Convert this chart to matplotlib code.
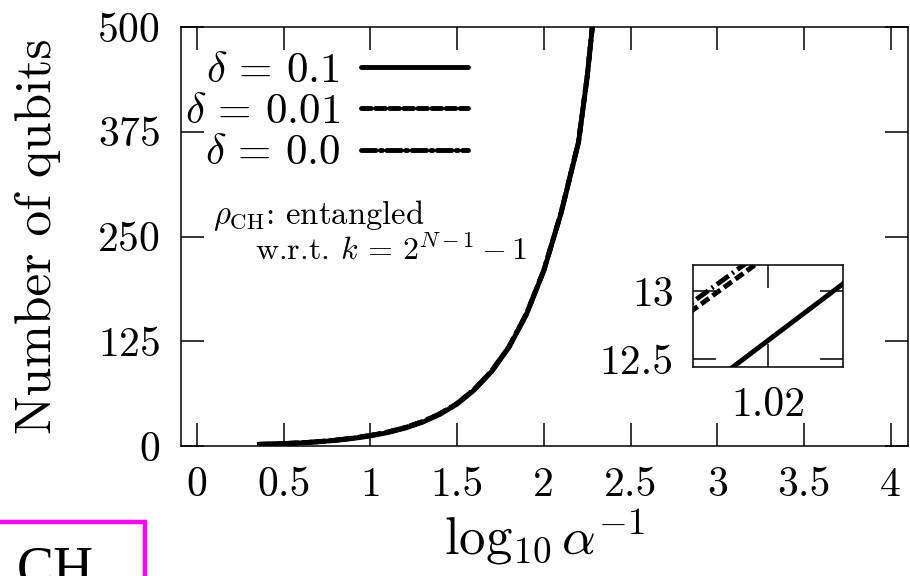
import matplotlib
matplotlib.use("Agg")
import matplotlib.pyplot as plt
from matplotlib.patches import Rectangle

plt.rcParams['font.family'] = 'serif'
plt.rcParams['font.serif'] = ['cmr10']
plt.rcParams['mathtext.fontset'] = 'cm'
plt.rcParams['axes.unicode_minus'] = False
plt.rcParams['axes.formatter.use_mathtext'] = True

# ---------------- data ----------------
log_inv_alpha = [0.36, 0.4, 0.5, 0.6, 0.7, 0.8, 0.9, 1.0, 1.1, 1.2, 1.3, 1.4, 1.5,
                 1.6, 1.7, 1.8, 1.9, 2.0, 2.1, 2.2, 2.25, 2.28, 2.32]
n_delta_01 = [2, 2.2, 2.8, 3.7, 5.0, 6.7, 9.0, 12, 16, 21.3, 28.3, 37.7, 50,
              67, 89, 118, 157, 209, 278, 362, 440, 500, 570]
n_delta_001 = [2, 2.2, 2.9, 3.8, 5.2, 7.0, 9.4, 12.6, 16.6, 22.0, 29.0, 38.4, 50.7,
               67.7, 89.7, 118.7, 157.7, 209.7, 278.7, 362.7, 440.7, 500.7, 570.7]
n_delta_00 = [2, 2.2, 2.9, 3.8, 5.2, 7.0, 9.5, 12.7, 16.7, 22.1, 29.1, 38.5, 50.8,
              67.8, 89.8, 118.8, 157.8, 209.8, 278.8, 362.8, 440.8, 500.8, 570.8]

inset_x = [1.005, 1.035]
inset_n_01 = [12.01, 13.26]
inset_n_001 = [12.66, 13.86]
inset_n_00 = [12.72, 13.92]

labels = [r'$\delta\,=\,0.1$', r'$\delta\,=\,0.01$', r'$\delta\,=\,0.0$']
xticks = [0, 0.5, 1, 1.5, 2, 2.5, 3, 3.5, 4]
xticklabels = ['0', '0.5', '1', '1.5', '2', '2.5', '3', '3.5', '4']
yticks = [0, 125, 250, 375, 500]
inset_xticks = [1.02]
inset_yticks = [12.5, 13]
inset_yticklabels = ['12.5', '13']

# ---------------- figure ----------------
W, H = 910, 576
fig = plt.figure(figsize=(W / 100, H / 100), dpi=100)

def fr(x0, y0, x1, y1):
    return [x0 / W, 1 - y1 / H, (x1 - x0) / W, (y1 - y0) / H]

ax = fig.add_axes(fr(181, 27, 908, 446))
lw = 3.5
dash = (0, (2.0, 0.9))
dashdot = (0, (3.0, 0.9, 0.4, 0.9))
styles = ['-', dash, dashdot]
series = [n_delta_01, n_delta_001, n_delta_00]
for n, ls in zip(series, styles):
    ax.plot(log_inv_alpha, n, color='black', lw=lw, ls=ls)

ax.set_xlim(-0.092, 4.1)
ax.set_ylim(0, 500)
ax.set_xticks(xticks)
ax.set_xticklabels(xticklabels)
ax.set_yticks(yticks)
for s in ax.spines.values():
    s.set_linewidth(1.1)
ax.tick_params(direction='in', length=16.5, width=1.1, top=True, right=True,
               labelsize=30, pad=15)
ax.tick_params(axis='y', pad=15)
ax.set_ylabel('Number of qubits', fontsize=37, labelpad=26)
ax.set_xlabel(r'$\log_{10} \alpha^{-1}$', fontsize=38, labelpad=2)

# legend (gnuplot style: right-aligned key text followed by line sample)
leg_rows = [0.905, 0.807, 0.707]
for lab, ls, yr in zip(labels, styles, leg_rows):
    ax.text(0.2187, yr, lab, transform=ax.transAxes, fontsize=31,
            ha='right', va='center_baseline')
    ax.plot([0.2476, 0.3948], [yr, yr], transform=ax.transAxes, color='black',
            lw=lw, ls=ls, solid_capstyle='round', dash_capstyle='round')

ax.text(0.044, 0.551, r'$\rho_{\rm CH}$: entangled', transform=ax.transAxes,
        fontsize=23.5, va='center', ha='left')
ax.text(0.102, 0.468, r'w.r.t. $k\,=\,2^{N-1}-1$', transform=ax.transAxes,
        fontsize=23, va='center', ha='left')

# ---------------- inset ----------------
axi = fig.add_axes(fr(693, 265, 843, 367))
for n, ls in zip([inset_n_01, inset_n_001, inset_n_00], styles):
    axi.plot(inset_x, n, color='black', lw=lw, ls=ls)
axi.set_xlim(1.01, 1.03)
axi.set_ylim(12.44, 13.19)
axi.set_xticks(inset_xticks)
axi.set_xticklabels(['1.02'])
axi.set_yticks(inset_yticks)
axi.set_yticklabels(inset_yticklabels)
for s in axi.spines.values():
    s.set_linewidth(1.1)
axi.tick_params(direction='in', length=16.5, width=1.1, top=True, right=True,
                labelsize=30, pad=14)
axi.tick_params(axis='y', pad=14)

# ---------------- fragment at bottom-left ----------------
fig.patches.append(Rectangle((-0.02, -0.1), 145 / W + 0.02, 0.1 + (H - 522) / H,
                             transform=fig.transFigure, fill=False,
                             edgecolor='#ff00ff', lw=3.2))
fig.text(17 / W, (H - 585) / H, 'CH', fontsize=40, family='Liberation Serif',
         ha='left', va='baseline')

fig.savefig('out.png', dpi=100)
